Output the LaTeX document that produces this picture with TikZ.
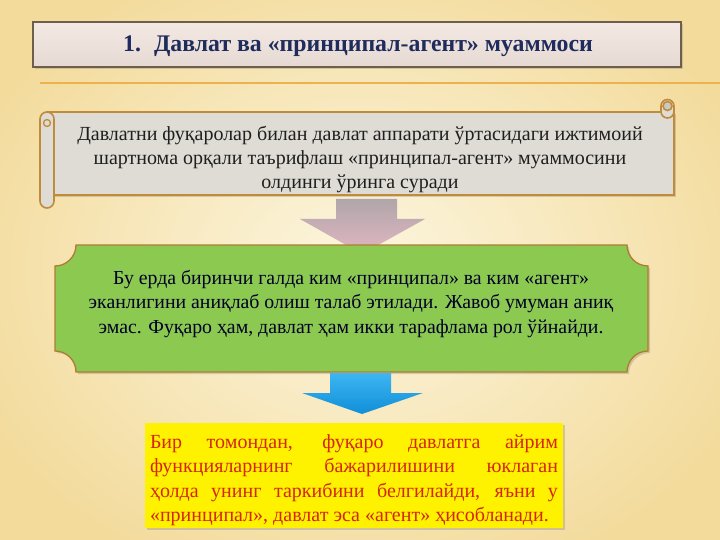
\documentclass[tikz,border=0pt]{standalone}
\usepackage{fontspec}
\setmainfont{Liberation Serif}
\usetikzlibrary{shadows}
\definecolor{bgin}{HTML}{FCF6E0}
\definecolor{bgout}{HTML}{F3DB9C}
\definecolor{titlefill}{HTML}{F1E3DC}
\definecolor{titledraw}{HTML}{6E5E4C}
\definecolor{titletext}{HTML}{1F2B5C}
\definecolor{rulecol}{HTML}{EDB24E}
\definecolor{scrollfill}{HTML}{DEDCD5}
\definecolor{scrolldraw}{HTML}{C18B3C}
\definecolor{plaquefill}{HTML}{8CC951}
\definecolor{plaquedraw}{HTML}{B07B33}
\definecolor{pinktop}{HTML}{B0A6AA}
\definecolor{pinkbot}{HTML}{E2B6C2}
\definecolor{bluetop}{HTML}{3DB6F2}
\definecolor{bluebot}{HTML}{108ED8}
\definecolor{redtext}{HTML}{D5260C}
\tikzset{
  boxshadow/.style={drop shadow={shadow xshift=2pt,shadow yshift=-2pt,opacity=0.25,fill=black!60}},
  titlebox/.style={draw=titledraw, line width=1.3pt, top color=titlefill!80!white, bottom color=titlefill!90!gray,
    minimum width=648pt, minimum height=45pt, inner sep=0pt, boxshadow},
  scrollpart/.style={fill=scrollfill, draw=scrolldraw, line width=1.6pt},
  plaque/.style={fill=plaquefill, draw=plaquedraw, line width=1.3pt},
  bodytext/.style={align=center, inner sep=0pt},
}
\begin{document}
\begin{tikzpicture}[x=1pt,y=-1pt]
\useasboundingbox (0,0) rectangle (720,540);
\shade[inner color=bgin, outer color=bgout] (-60,-60) rectangle (780,600);

% title
\node[titlebox] (title) at (357,44.5) {};
\node[bodytext, text=titletext, font=\bfseries\fontsize{23.8}{27}\selectfont] (titletxt) at (358,46.5) {1.\hspace{0.55em}Давлат ва «принципал-агент» муаммоси};

% rule
\coordinate (r1) at (40,83);
\coordinate (r2) at (720,83);
\draw[rulecol, line width=1.4pt] (r1) -- (r2);

% scroll
\draw[scrollpart, boxshadow] (47,112) rectangle (674,195);
\draw[scrollpart, rounded corners=6.5pt] (661,99.5) rectangle (674,118);
\draw[scrollpart, fill=scrollfill!80!gray] (667.5,106) circle[radius=4.5];
\draw[scrollpart, rounded corners=7pt] (40,112) rectangle (54,208);
\draw[scrolldraw, line width=1.3pt] (47,123) circle[radius=3.5];
\node[bodytext, font=\fontsize{20}{24}\selectfont, text=black!88] (scrolltxt) at (360,160)
  {Давлатни фуқаролар билан давлат аппарати ўртасидаги ижтимоий\\
   шартнома орқали таърифлаш «принципал-агент» муаммосини\\
   олдинги ўринга суради};

% pink arrow
\shade[top color=pinktop, bottom color=pinkbot]
  (336,199) -- (397,199) -- (397,219) -- (425,219) -- (362,254) -- (300,219) -- (336,219) -- cycle;

% green plaque
\draw[plaque, boxshadow]
  (76,245) -- (627,245) .. controls (627,256.6) and (636.4,266) .. (648,266)
  -- (648,351) .. controls (636.4,351) and (627,360.4) .. (627,372)
  -- (76,372) .. controls (76,360.4) and (66.6,351) .. (55,351)
  -- (55,266) .. controls (66.6,266) and (76,256.6) .. (76,245) -- cycle;
\node[bodytext, font=\fontsize{19.8}{24.5}\selectfont, text=black!85!blue] (plaquetxt) at (351,304)
  {Бу ерда биринчи галда ким «принципал» ва ким «агент»\\
   эканлигини аниқлаб олиш талаб этилади. Жавоб умуман аниқ\\
   эмас. Фуқаро ҳам, давлат ҳам икки тарафлама рол ўйнайди.};

% blue arrow
\shade[top color=bluetop, bottom color=bluebot]
  (330,373) -- (391,373) -- (391,393) -- (423,393) -- (362,414) -- (302,393) -- (330,393) -- cycle;

% yellow box
\node[fill=yellow, minimum width=418pt, minimum height=105pt, inner sep=0pt, boxshadow] (ybox) at (354,475.5) {};
\node[inner sep=0pt, text=redtext, font=\fontsize{20}{24.4}\selectfont] (ytxt) at (354,480)
  {\parbox{408pt}{\hyphenpenalty=10000\tolerance=10000
   Бир томондан, фуқаро давлатга айрим\linebreak
   функцияларнинг бажарилишини юклаган\linebreak
   ҳолда унинг таркибини белгилайди, яъни у\linebreak
   «принципал», давлат эса «агент» ҳисобланади.}};
\end{tikzpicture}
\end{document}
